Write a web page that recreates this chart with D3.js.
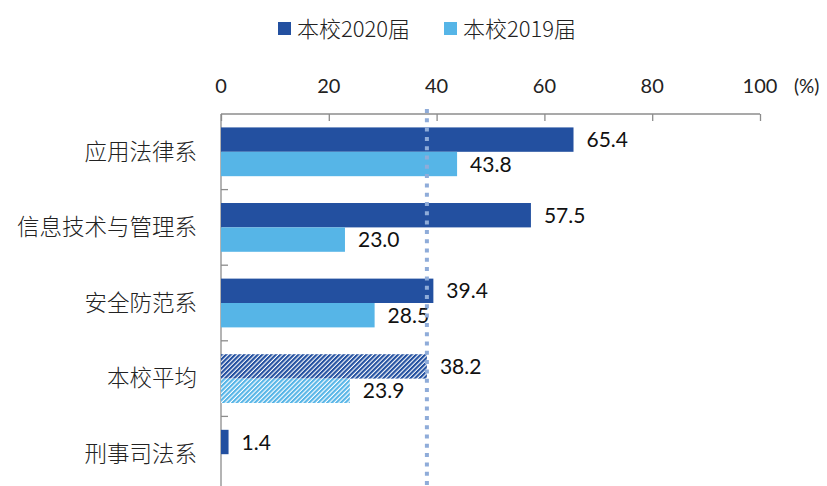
<!DOCTYPE html>
<html>
<head>
<meta charset="utf-8">
<script src="https://cdn.jsdelivr.net/npm/d3@7"></script>
<style>
   body { margin: 0; background: #fff; }
   text { font-family: Lato, "Noto Sans", "Noto Sans CJK SC", sans-serif; }
   text.cn { font-family: "Noto Sans CJK SC", sans-serif; font-weight: 300; }
</style>
</head>
<body>
<div id="chart"></div>
<script>
var categories = ["应用法律系", "信息技术与管理系", "安全防范系", "本校平均", "刑事司法系"]
var values2020 = [65.4, 57.5, 39.4, 38.2, 1.4]
var values2019 = [43.8, 23.0, 28.5, 23.9, null]
var seriesNames = ["本校2020届", "本校2019届"]
var xTicks = [0, 20, 40, 60, 80, 100]
var averageLine = 38.2
var averageName = "本校平均"

var width = 827
var height = 486
var colors = ["#2350A0", "#56B5E7"]
var margin = { top: 114, left: 221, right: 67, bottom: -6 }

var svg = d3.select("#chart").append("svg")
   .attr("width", width)
   .attr("height", height)

// hatch patterns for the average row
var defs = svg.append("defs")
colors.forEach(function(c, i) {
   var p = defs.append("pattern")
      .attr("id", "hatch" + i)
      .attr("patternUnits", "userSpaceOnUse")
      .attr("width", 3.2)
      .attr("height", 3.2)
      .attr("patternTransform", "rotate(45)")
   p.append("rect").attr("width", 3.2).attr("height", 3.2).attr("fill", "#fff")
   p.append("rect").attr("width", 2.1).attr("height", 3.2).attr("fill", c)
})

var x = d3.scaleLinear().domain([0, 100]).range([margin.left, width - margin.right])
var y = d3.scaleBand().domain(categories)
   .range([margin.top, height - margin.bottom])
   .paddingInner(0).paddingOuter(0)
var inner = d3.scaleBand().domain([0, 1]).range([0, y.bandwidth()]).padding(0).paddingOuter(0.55)

// top axis
var axis = svg.append("g")
   .attr("transform", "translate(0," + margin.top + ")")
   .call(d3.axisBottom(x).tickValues(xTicks).tickSize(7).tickFormat(""))
axis.select(".domain").attr("stroke", "#8c8c8c").attr("stroke-width", 1.3)
   .attr("d", "M" + x(0) + ",0H" + x(100))
axis.selectAll(".tick line").attr("stroke", "#8c8c8c").attr("stroke-width", 1.3)

svg.selectAll("text.xlabel").data(xTicks).enter().append("text")
   .attr("class", "xlabel")
   .attr("x", function(d) { return x(d) })
   .attr("y", 93)
   .attr("text-anchor", "middle")
   .attr("font-size", 20)
   .attr("fill", "#222")
   .text(function(d) { return d })

svg.append("text")
   .attr("x", 794).attr("y", 93)
   .attr("font-size", 19)
   .attr("fill", "#222")
   .text("(%)")

// left axis
svg.append("line")
   .attr("x1", x(0)).attr("x2", x(0))
   .attr("y1", margin.top).attr("y2", height)
   .attr("stroke", "#8c8c8c").attr("stroke-width", 1.3)
svg.selectAll("line.ytick").data(categories.slice(1)).enter().append("line")
   .attr("class", "ytick")
   .attr("x1", x(0)).attr("x2", x(0) + 7)
   .attr("y1", function(d) { return y(d) })
   .attr("y2", function(d) { return y(d) })
   .attr("stroke", "#8c8c8c").attr("stroke-width", 1.3)

svg.selectAll("text.cat").data(categories).enter().append("text")
   .attr("class", "cat cn")
   .attr("x", 197)
   .attr("y", function(d) { return y(d) + y.bandwidth() / 2 })
   .attr("dy", "0.35em")
   .attr("text-anchor", "end")
   .attr("font-size", 22.5)
   .attr("fill", "#222")
   .text(function(d) { return d })

// bars
var series = [values2020, values2019]
series.forEach(function(vals, s) {
   var rows = categories.map(function(c, i) { return { cat: c, v: vals[i] } })
      .filter(function(d) { return d.v != null })
   svg.selectAll("rect.s" + s).data(rows).enter().append("rect")
      .attr("class", "s" + s)
      .attr("x", x(0))
      .attr("y", function(d) { return y(d.cat) + inner(s) })
      .attr("width", function(d) { return x(d.v) - x(0) })
      .attr("height", inner.bandwidth())
      .attr("fill", function(d) { return d.cat == averageName ? "url(#hatch" + s + ")" : colors[s] })

   svg.selectAll("text.v" + s).data(rows).enter().append("text")
      .attr("class", "v" + s)
      .attr("x", function(d) { return x(d.v) + 13 })
      .attr("y", function(d) { return y(d.cat) + inner(s) + inner.bandwidth() / 2 })
      .attr("dy", "0.36em")
      .attr("font-size", 21)
      .attr("fill", "#111")
      .text(function(d) { return d.v.toFixed(1) })
})

// average reference line
svg.append("line")
   .attr("x1", x(averageLine)).attr("x2", x(averageLine))
   .attr("y1", margin.top - 5).attr("y2", height)
   .attr("stroke", "#8FACD9")
   .attr("stroke-width", 4)
   .attr("stroke-dasharray", "4,5.3")

// legend
var legendX = [278, 444]
seriesNames.forEach(function(n, i) {
   svg.append("rect")
      .attr("x", legendX[i]).attr("y", 22)
      .attr("width", 13).attr("height", 13)
      .attr("fill", colors[i])
   svg.append("text")
      .attr("class", "cn")
      .attr("x", legendX[i] + 19).attr("y", 29)
      .attr("dy", "0.36em")
      .attr("font-size", 22)
      .attr("fill", "#222")
      .text(n)
})
</script>
</body>
</html>
